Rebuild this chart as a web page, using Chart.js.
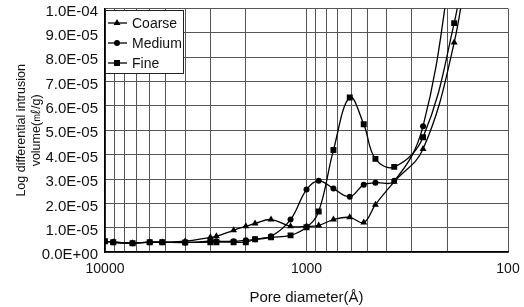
<!DOCTYPE html>
<html>
<head>
<meta charset="utf-8">
<script src="https://cdn.jsdelivr.net/npm/chart.js@4.4.0/dist/chart.umd.min.js"></script>
<style>
  html, body { margin: 0; padding: 0; background: #fff; }
</style>
</head>
<body>
<canvas id="myChart" width="524" height="307"></canvas>
<script>
// pore diameter (Å) of each measured point, shared by the three samples
const poreDiameters = [10000, 9100, 7300, 6000, 5200, 4000, 3000, 2800, 2300, 2000, 1800, 1500,
    1200, 1000, 870, 735, 610, 520, 455, 367, 264, 185, 156];

const coarseValues = [0.45e-5, 0.41e-5, 0.37e-5, 0.41e-5, 0.41e-5, 0.45e-5, 0.61e-5, 0.65e-5, 0.90e-5, 1.06e-5, 1.18e-5, 1.34e-5,
    1.06e-5, 1.06e-5, 1.10e-5, 1.34e-5, 1.43e-5, 1.22e-5, 1.95e-5, 2.89e-5, 4.23e-5, 8.6e-5, 12.5e-5];
const mediumValues = [0.45e-5, 0.41e-5, 0.37e-5, 0.41e-5, 0.41e-5, 0.40e-5, 0.45e-5, 0.45e-5, 0.45e-5, 0.49e-5, 0.53e-5, 0.65e-5,
    1.34e-5, 2.57e-5, 2.93e-5, 2.61e-5, 2.28e-5, 2.77e-5, 2.85e-5, 2.93e-5, 5.17e-5, 12.5e-5, 16e-5];
const fineValues = [0.45e-5, 0.41e-5, 0.37e-5, 0.41e-5, 0.41e-5, 0.40e-5, 0.41e-5, 0.41e-5, 0.41e-5, 0.41e-5, 0.53e-5, 0.61e-5,
    0.69e-5, 1.02e-5, 1.67e-5, 4.19e-5, 6.35e-5, 5.25e-5, 3.83e-5, 3.50e-5, 4.72e-5, 9.4e-5, 13e-5];

const seriesNames = ["Coarse", "Medium", "Fine"];
const seriesMarkers = ["triangle", "circle", "rect"];
const markerSizes = [4, 3, 4.2];

// log grid lines on the x axis, only the decades get a label
const xTickValues = [100, 200, 300, 400, 500, 600, 700, 800, 900,
    1000, 2000, 3000, 4000, 5000, 6000, 7000, 8000, 9000, 10000];
const xTickLabels = ["100", "1000", "10000"];

const yTitle = ["Log differential intrusion", "volume(㎖/g)"];
const xTitle = "Pore diameter(Å)";

Chart.defaults.font.family = "'Liberation Sans', Arial, sans-serif";
Chart.defaults.font.size = 14;
Chart.defaults.color = "#111";

const sci = (v) => {
    if (Math.abs(v) < 1e-12) return "0.0E+00";
    const parts = v.toExponential(1).split("e");
    const n = parseInt(parts[1], 10);
    return parts[0] + "E" + (n < 0 ? "-" : "+") + String(Math.abs(n)).padStart(2, "0");
};

const makePoints = (values) => poreDiameters.map((d, i) => ({ x: d, y: values[i] }));

const allValues = [coarseValues, mediumValues, fineValues];
const datasets = seriesNames.map((name, i) => ({
    label: name,
    data: makePoints(allValues[i]),
    borderColor: "#000",
    backgroundColor: "#000",
    borderWidth: 1.3,
    tension: 0.4,
    pointStyle: seriesMarkers[i],
    pointRadius: markerSizes[i],
    pointBorderWidth: 0,
}));

// legend drawn as a boxed key in the upper left of the plot
const legendBox = {
    id: "legendBox",
    afterDatasetsDraw(chart) {
        const ctx = chart.ctx;
        const area = chart.chartArea;
        const x0 = Math.round(area.left), y0 = Math.round(area.top) + 1;
        const w = 78, h = 63;
        ctx.save();
        ctx.fillStyle = "#fff";
        ctx.fillRect(x0, y0, w, h);
        ctx.strokeStyle = "#222";
        ctx.lineWidth = 1;
        ctx.strokeRect(x0 + 0.5, y0 + 0.5, w, h);
        ctx.font = "14px 'Liberation Sans', Arial, sans-serif";
        ctx.textBaseline = "middle";
        chart.data.datasets.forEach((ds, i) => {
            const cy = y0 + 13 + i * 20;
            ctx.strokeStyle = "#000";
            ctx.lineWidth = 1.3;
            ctx.beginPath();
            ctx.moveTo(x0 + 3, cy);
            ctx.lineTo(x0 + 22, cy);
            ctx.stroke();
            ctx.fillStyle = "#000";
            Chart.helpers.drawPoint(ctx, { pointStyle: ds.pointStyle, radius: ds.pointRadius, borderWidth: 0 }, x0 + 12, cy);
            ctx.fillStyle = "#111";
            ctx.fillText(ds.label, x0 + 27, cy + 1);
        });
        ctx.restore();
    },
};

var canvas = document.getElementById("myChart");
var ctx = canvas.getContext("2d");
var myChart = new Chart(ctx, {
    type: "line",
    data: { datasets: datasets },
    plugins: [legendBox],
    options: {
        responsive: false,
        animation: false,
        devicePixelRatio: 1,
        layout: { padding: { left: 14, right: 16, top: 0, bottom: 0 } },
        plugins: {
            legend: { display: false },
            tooltip: { enabled: false },
        },
        scales: {
            x: {
                type: "logarithmic",
                reverse: true,
                min: 100,
                max: 10000,
                afterBuildTicks: (scale) => {
                    scale.ticks = xTickValues.map((v) => ({ value: v }));
                },
                ticks: {
                    autoSkip: false,
                    maxRotation: 0,
                    padding: 9,
                    callback: (v) => (xTickLabels.includes(String(v)) ? String(v) : ""),
                },
                grid: { color: "#555", drawTicks: false },
                border: { color: "#000", width: 1.5 },
                title: { display: true, text: xTitle, font: { size: 15 }, padding: { top: 2, bottom: 0 } },
            },
            y: {
                min: 0,
                max: 1e-4,
                afterFit: (scale) => {
                    scale.width = 91;
                    scale.paddingTop = 8.5;
                },
                ticks: {
                    stepSize: 1e-5,
                    padding: 7,
                    labelOffset: 3,
                    font: { size: 15 },
                    callback: (v) => sci(v),
                },
                grid: { color: "#555", drawTicks: false },
                border: { color: "#000", width: 1.5 },
                title: { display: true, text: yTitle, padding: { top: 0, bottom: 6 }, font: { size: 12.5, lineHeight: 1.2 } },
            },
        },
    },
});
</script>
</body>
</html>
